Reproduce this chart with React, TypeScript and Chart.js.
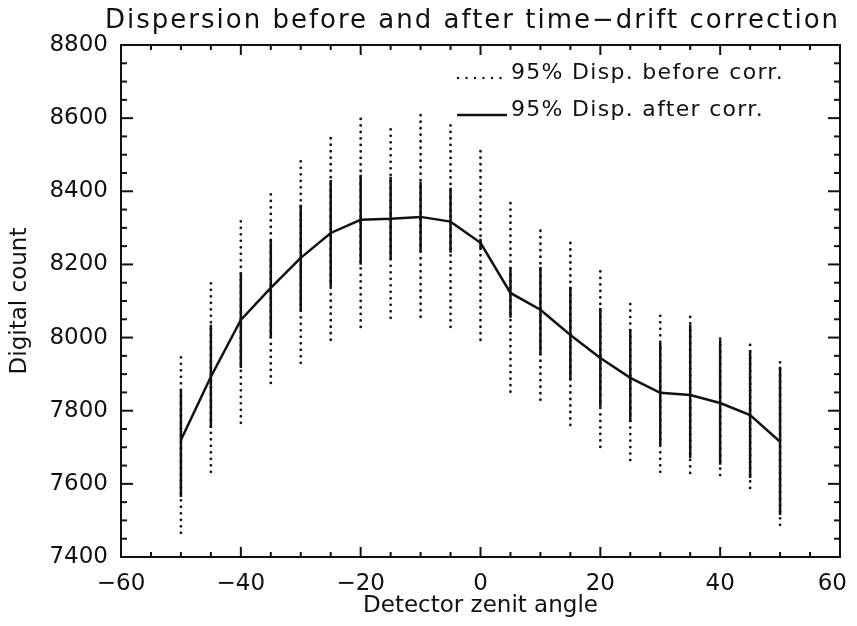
import React, { useEffect, useRef } from "react";
import { Chart, registerables } from "chart.js";

Chart.register(...registerables);

// ---- data ----
const angles = [-50, -45, -40, -35, -30, -25, -20, -15, -10, -5, 0, 5, 10, 15, 20, 25, 30, 35, 40, 45, 50];
const meanCount = [7720, 7893, 8048, 8136, 8218, 8286, 8322, 8325, 8330, 8317, 8259, 8122, 8076, 8007, 7944, 7890, 7849, 7843, 7821, 7788, 7715];
const afterLow = [7564, 7753, 7917, 7999, 8071, 8139, 8199, 8213, 8235, 8232, 8242, 8054, 7952, 7884, 7811, 7770, 7706, 7671, 7652, 7616, 7515];
const afterHigh = [7857, 8035, 8177, 8267, 8363, 8431, 8445, 8440, 8426, 8410, 8270, 8193, 8193, 8139, 8081, 8021, 7985, 8035, 7994, 7966, 7920];
const beforeLow = [7466, 7633, 7767, 7876, 7931, 7994, 8029, 8054, 8057, 8029, 7994, 7852, 7830, 7761, 7701, 7665, 7633, 7630, 7624, 7589, 7488];
const beforeHigh = [7947, 8163, 8325, 8399, 8486, 8554, 8609, 8587, 8609, 8585, 8522, 8385, 8308, 8259, 8185, 8098, 8062, 8057, 8002, 7988, 7939];

const xTicks = [-60, -40, -20, 0, 20, 40, 60];
const yTicks = [7400, 7600, 7800, 8000, 8200, 8400, 8600, 8800];
const xMinorPerMajor = 4;
const yMinorPerMajor = 4;

const titleText = "Dispersion before and after time\u2212drift correction";
const legendBefore = "95% Disp. before corr.";
const legendAfter = "95% Disp. after corr.";
const xTitle = "Detector zenit angle";
const yTitle = "Digital count";

const INK = "#111";
const FONT = "'DejaVu Sans', 'Liberation Sans', sans-serif";
const CANVAS_W = 841;
const CANVAS_H = 610;

function barPoints(lo: number[], hi: number[]) {
  const pts: { x: number; y: number | null }[] = [];
  angles.forEach((a, i) => {
    pts.push({ x: a, y: lo[i] }, { x: a, y: hi[i] }, { x: a, y: null });
  });
  return pts;
}

const minusSign = (v: number) => String(v).replace("-", "\u2212");

const framePlugin = {
  id: "idlFrame",
  afterDraw(chart: any) {
    const { ctx, chartArea: a, scales } = chart;
    const xs = scales.x;
    const ys = scales.y;
    ctx.save();
    ctx.strokeStyle = INK;
    ctx.fillStyle = INK;
    ctx.lineWidth = 2;
    ctx.strokeRect(a.left, a.top, a.right - a.left, a.bottom - a.top);

    const seg = (x1: number, y1: number, x2: number, y2: number) => {
      ctx.beginPath();
      ctx.moveTo(x1, y1);
      ctx.lineTo(x2, y2);
      ctx.stroke();
    };
    // x ticks (bottom and top, pointing inward)
    const xStep = (xTicks[1] - xTicks[0]) / xMinorPerMajor;
    for (let k = 0; k <= (xTicks.length - 1) * xMinorPerMajor; k++) {
      const v = xTicks[0] + k * xStep;
      const px = xs.getPixelForValue(v);
      const len = k % xMinorPerMajor === 0 ? 10 : 5;
      seg(px, a.bottom, px, a.bottom - len);
      seg(px, a.top, px, a.top + len);
    }
    // y ticks (left and right)
    const yStep = (yTicks[1] - yTicks[0]) / yMinorPerMajor;
    for (let k = 0; k <= (yTicks.length - 1) * yMinorPerMajor; k++) {
      const v = yTicks[0] + k * yStep;
      const py = ys.getPixelForValue(v);
      const len = k % yMinorPerMajor === 0 ? 12 : 6;
      seg(a.left, py, a.left + len, py);
      seg(a.right, py, a.right - len, py);
    }

    // x tick labels (kept inside the canvas)
    ctx.font = `23px ${FONT}`;
    ctx.textAlign = "center";
    ctx.textBaseline = "middle";
    xTicks.forEach((v) => {
      const label = minusSign(v);
      const w = ctx.measureText(label).width;
      let px = xs.getPixelForValue(v);
      px = Math.min(px, CANVAS_W - w / 2 - 2);
      ctx.fillText(label, px, a.bottom + 27);
    });

    // title
    ctx.font = `26px ${FONT}`;
    (ctx as any).letterSpacing = "2px";
    ctx.textAlign = "left";
    ctx.textBaseline = "middle";
    ctx.fillText(titleText, 97, 13);

    // legend
    const sx1 = 449;
    const sx2 = 499;
    const tx = 503;
    ctx.font = `22px ${FONT}`;
    (ctx as any).letterSpacing = "1.3px";
    ctx.textAlign = "left";
    ctx.textBaseline = "alphabetic";
    // dotted sample
    ctx.lineWidth = 2.4;
    ctx.lineCap = "round";
    ctx.setLineDash([0, 8.5]);
    seg(sx1 + 1, 70, sx2, 70);
    ctx.setLineDash([]);
    ctx.lineCap = "butt";
    ctx.fillText(legendBefore, tx, 71);
    // solid sample
    ctx.lineWidth = 2.5;
    seg(sx1, 107, sx2, 107);
    ctx.fillText(legendAfter, tx, 108);
    (ctx as any).letterSpacing = "0px";
    ctx.restore();
  },
};

export default function App() {
  const ref = useRef<HTMLCanvasElement | null>(null);

  useEffect(() => {
    if (!ref.current) return;
    const chart = new Chart(ref.current, {
      type: "line",
      data: {
        datasets: [
          {
            label: "Mean",
            data: angles.map((a, i) => ({ x: a, y: meanCount[i] })),
            borderColor: INK,
            borderWidth: 2.5,
            pointRadius: 0,
            tension: 0,
            fill: false,
          },
          {
            label: legendAfter,
            data: barPoints(afterLow, afterHigh),
            borderColor: INK,
            borderWidth: 2.5,
            pointRadius: 0,
            spanGaps: false,
            fill: false,
          },
          {
            label: legendBefore,
            data: barPoints(beforeLow, beforeHigh),
            borderColor: INK,
            borderWidth: 2.8,
            borderDash: [0, 6.5],
            borderCapStyle: "round",
            pointRadius: 0,
            spanGaps: false,
            fill: false,
          },
        ],
      } as any,
      options: {
        animation: false,
        responsive: false,
        events: [],
        layout: { padding: { left: 0, right: 9, top: 37, bottom: 0 } },
        plugins: {
          legend: { display: false },
          title: { display: false },
          tooltip: { enabled: false },
        },
        scales: {
          x: {
            type: "linear",
            min: -60,
            max: 60,
            afterBuildTicks: (s: any) => {
              s.ticks = xTicks.map((v) => ({ value: v }));
            },
            afterFit: (s: any) => {
              s.height = 61;
              s.paddingLeft = 0;
              s.paddingRight = 0;
            },
            grid: { display: false, drawTicks: false },
            border: { display: false },
            ticks: { display: false },
            title: {
              display: true,
              text: xTitle,
              color: INK,
              font: { family: FONT, size: 23, lineHeight: 1 },
              padding: { top: 0, bottom: 0 },
            },
          },
          y: {
            type: "linear",
            min: 7400,
            max: 8800,
            afterBuildTicks: (s: any) => {
              s.ticks = yTicks.map((v) => ({ value: v }));
            },
            afterFit: (s: any) => {
              s.width = 113;
              s.paddingTop = 0;
              s.paddingBottom = 0;
            },
            grid: { display: false, drawTicks: false },
            border: { display: false },
            ticks: {
              color: INK,
              padding: 13,
              autoSkip: false,
              font: { family: FONT, size: 23 },
              callback: (v: any) => String(v),
            },
            title: {
              display: true,
              text: yTitle,
              color: INK,
              font: { family: FONT, size: 23, lineHeight: 1 },
              padding: { top: 1, bottom: 0 },
            },
          },
        },
      } as any,
      plugins: [framePlugin],
    });
    return () => chart.destroy();
  }, []);

  return (
    <div style={{ width: CANVAS_W, height: CANVAS_H }}>
      <canvas ref={ref} width={CANVAS_W} height={CANVAS_H} style={{ display: "block" }} />
    </div>
  );
}
